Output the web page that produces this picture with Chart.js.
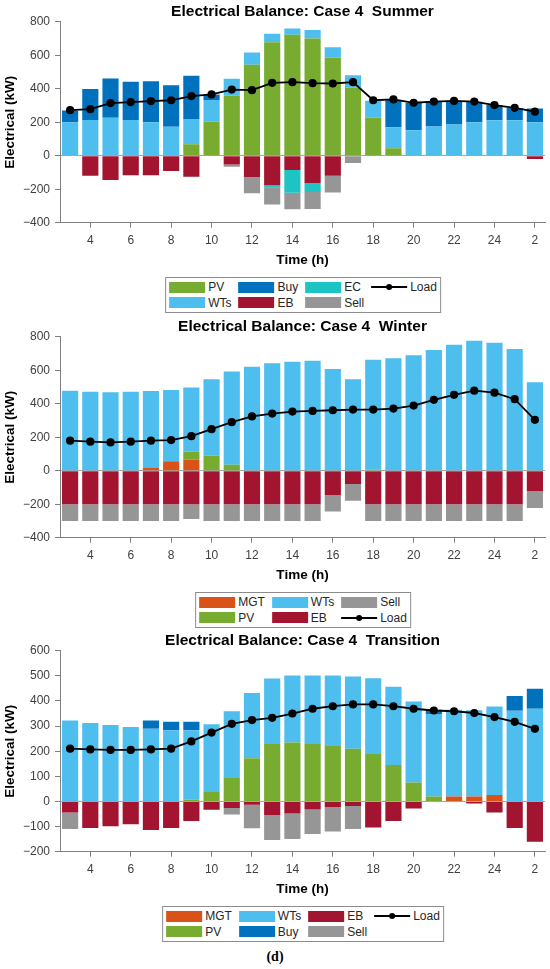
<!DOCTYPE html>
<html>
<head>
<meta charset="utf-8">
<script src="https://cdn.jsdelivr.net/npm/chart.js@4.4.1/dist/chart.umd.min.js"></script>
<style>
  body { margin: 0; width: 550px; height: 969px; background: #fff; position: relative; font-family: "Liberation Sans", Arial, sans-serif; }
  canvas { position: absolute; left: 0; }
  .legend { position: absolute; left: 303px; transform: translateX(-50%); border: 1px solid #8c8c8c; background: #fff;
    padding: 1.5px 3px; display: grid; grid-template-rows: 15.5px 15.5px; grid-auto-flow: column; column-gap: 7px;
    font-size: 12px; color: #262626; }
  .item { display: flex; align-items: center; white-space: nowrap; }
  .sw { width: 36px; height: 11px; margin-right: 3px; }
  .ln { width: 36px; height: 2px; background: #000; margin-right: 3px; position: relative; }
  .ln::after { content: ""; position: absolute; left: 15px; top: -2px; width: 6px; height: 6px; border-radius: 50%; background: #000; }
  #cap { position: absolute; top: 949px; left: 0; width: 550px; text-align: center; font: bold 14px "Liberation Serif", serif; }
</style>
</head>
<body>
<canvas id="c1" width="550" height="268" style="top:0px"></canvas>
<div class="legend" id="lg1" style="top:277px"></div>
<canvas id="c2" width="550" height="268" style="top:315px"></canvas>
<div class="legend" id="lg2" style="top:592px"></div>
<canvas id="c3" width="550" height="268" style="top:629px"></canvas>
<div class="legend" id="lg3" style="top:906px"></div>
<div id="cap">(d)</div>

<script>
// ==============Data==============
const hours = ["3","4","5","6","7","8","9","10","11","12","13","14","15","16","17","18","19","20","21","22","23","24","1","2"];

// Summer
const sumPV   = [0,0,0,0,0,0,68,203,358,543,678,722,700,586,405,227,45,0,0,0,0,0,0,0];
const sumWTs  = [200,213,227,213,200,173,151,129,101,73,50,38,50,62,76,101,125,152,175,187,199,211,211,200];
const sumBuy  = [70,185,234,228,245,248,258,34,0,0,0,0,0,0,0,0,163,164,147,139,123,91,74,82];
const sumEB   = [0,-119,-145,-116,-116,-91,-125,0,-52,-127,-175,-85,-165,-119,0,0,0,0,0,0,0,0,0,-20];
const sumEC   = [0,0,0,0,0,0,0,0,0,0,-17,-136,-52,0,0,0,0,0,0,0,0,0,0,0];
const sumSell = [0,0,0,0,0,0,0,0,-14,-97,-99,-99,-101,-100,-43,0,0,0,0,0,0,0,0,0];
const sumLoad = [272,278,314,320,326,331,356,366,395,391,435,439,433,431,439,331,336,316,323,327,323,302,286,263];

// Winter
const winMGT  = [0,0,0,0,16,56,66,0,0,0,0,0,0,0,0,0,0,0,0,0,0,0,0,0];
const winPV   = [0,0,0,0,0,0,49,91,36,0,0,0,0,0,0,6,0,0,0,0,0,0,0,0];
const winWTs  = [478,472,468,472,460,426,381,455,556,621,641,651,657,607,546,657,671,689,721,752,776,764,727,528];
const winEB   = [-200,-200,-200,-200,-200,-200,-200,-200,-200,-200,-200,-200,-200,-147,-79,-200,-200,-200,-200,-200,-200,-200,-200,-123];
const winSell = [-100,-100,-100,-100,-100,-100,-88,-100,-100,-100,-100,-100,-100,-97,-100,-100,-100,-100,-100,-100,-100,-100,-100,-99];
const winLoad = [179,173,169,173,179,183,206,248,290,324,341,353,357,361,365,365,371,389,423,453,478,466,427,304];

// Transition
const traMGT  = [0,0,0,0,0,0,0,0,0,0,0,0,0,0,0,0,0,0,0,20,20,26,0,0];
const traPV   = [0,0,0,0,0,0,7,38,96,172,229,235,229,221,210,192,145,75,20,0,0,0,0,0];
const traWTs  = [322,312,304,296,289,283,276,269,263,260,260,266,272,280,287,298,312,323,328,345,343,352,361,369];
const traBuy  = [0,0,0,0,33,34,34,0,0,0,0,0,0,0,0,0,0,0,17,0,0,0,59,80];
const traEB   = [-44,-106,-99,-91,-114,-106,-78,-33,-26,-13,-54,-48,-32,-22,-18,-104,-78,-28,0,0,-8,-44,-106,-160];
const traSell = [-66,0,0,0,0,0,0,0,-26,-94,-99,-101,-98,-98,-92,0,0,0,0,0,0,0,0,0];
const traLoad = [210,207,205,205,207,210,239,274,309,324,333,350,369,379,386,386,379,369,362,359,352,336,317,289];

const colors = { MGT: "#D95319", PV: "#77AC30", WTs: "#4DBEEE", Buy: "#0072BD", EB: "#A2142F", EC: "#1EC3C3", Sell: "#969696" };

Chart.defaults.font.family = '"Liberation Sans", Arial, sans-serif';
const axisColor = "#808080";
const textColor = "#404040";

function bar_set(label, data) {
  return {
    type: "bar", label: label, data: data,
    backgroundColor: colors[label], borderWidth: 0,
    barPercentage: 0.8, categoryPercentage: 1,
    stack: "bal", order: 1,
  };
}

function load_set(data) {
  return {
    type: "line", label: "Load", data: data,
    borderColor: "#000", backgroundColor: "#000", borderWidth: 1.8,
    pointRadius: 3.2, pointHoverRadius: 3.2, tension: 0,
    stack: "load", order: 0,
  };
}

function minus(v) {
  return String(v).replace("-", "\u2212");
}

// ==============Legend (2 rows, filled column by column)==============
function make_legend(id, datasets) {
  const box = document.getElementById(id);
  datasets.forEach((ds) => {
    const item = document.createElement("div");
    item.className = "item";
    const sw = document.createElement("span");
    if (ds.type === "line") {
      sw.className = "ln";
    } else {
      sw.className = "sw";
      sw.style.background = ds.backgroundColor;
    }
    const txt = document.createElement("span");
    txt.textContent = ds.label;
    item.appendChild(sw);
    item.appendChild(txt);
    box.appendChild(item);
  });
}

function get_chart(id, legendId, title, bars, load, yMin, yMax, yStep) {
  const datasets = bars.concat([load]);
  make_legend(legendId, datasets);

  return new Chart(document.getElementById(id), {
    data: { labels: hours, datasets: datasets },
    options: {
      responsive: false,
      animation: false,
      layout: { padding: { left: 0, right: 4, top: 0, bottom: 0 } },
      plugins: {
        legend: { display: false },
        tooltip: { enabled: false },
        title: {
          display: true, text: title, color: "#000", fullSize: false,
          font: { size: 15.5, weight: "bold" },
          padding: { top: 2.4, bottom: 0.7 },
        },
      },
      scales: {
        x: {
          type: "category",
          stacked: true,
          afterFit: (s) => { s.height = 45.3; },
          border: { color: axisColor, width: 1 },
          grid: {
            offset: false, drawOnChartArea: false, tickLength: 5,
            tickColor: (ctx) => (ctx.index % 2 === 1 ? axisColor : "transparent"),
          },
          ticks: {
            autoSkip: false, maxRotation: 0, padding: 6, color: textColor,
            font: { size: 12 },
            callback: function (val, i) { return i % 2 === 1 ? this.getLabelForValue(val) : ""; },
          },
          title: {
            display: true, text: "Time (h)", color: "#000",
            font: { size: 13.5, weight: "bold" }, padding: 0,
          },
        },
        y: {
          stacked: true,
          min: yMin, max: yMax,
          afterFit: (s) => { s.width = 60; },
          border: { color: axisColor, width: 1 },
          grid: {
            tickLength: 5, tickColor: axisColor,
            color: (ctx) => (ctx.tick && ctx.tick.value === 0 ? "#a6a6a6" : "transparent"),
          },
          ticks: {
            stepSize: yStep, padding: 5, color: textColor,
            font: { size: 12 },
            callback: (v) => minus(v),
          },
          title: {
            display: true, text: "Electrical (kW)", color: "#000",
            font: { size: 13.5, weight: "bold" }, padding: { top: 2.4, bottom: 0 },
          },
        },
      },
    },
  });
}

// ==============Summer==============
get_chart("c1", "lg1", "Electrical Balance: Case 4  Summer",
  [bar_set("PV", sumPV), bar_set("WTs", sumWTs), bar_set("Buy", sumBuy),
   bar_set("EB", sumEB), bar_set("EC", sumEC), bar_set("Sell", sumSell)],
  load_set(sumLoad), -400, 800, 200);

// ==============Winter==============
get_chart("c2", "lg2", "Electrical Balance: Case 4  Winter",
  [bar_set("MGT", winMGT), bar_set("PV", winPV), bar_set("WTs", winWTs),
   bar_set("EB", winEB), bar_set("Sell", winSell)],
  load_set(winLoad), -400, 800, 200);

// ==============Transition==============
get_chart("c3", "lg3", "Electrical Balance: Case 4  Transition",
  [bar_set("MGT", traMGT), bar_set("PV", traPV), bar_set("WTs", traWTs), bar_set("Buy", traBuy),
   bar_set("EB", traEB), bar_set("Sell", traSell)],
  load_set(traLoad), -200, 600, 100);
</script>
</body>
</html>
